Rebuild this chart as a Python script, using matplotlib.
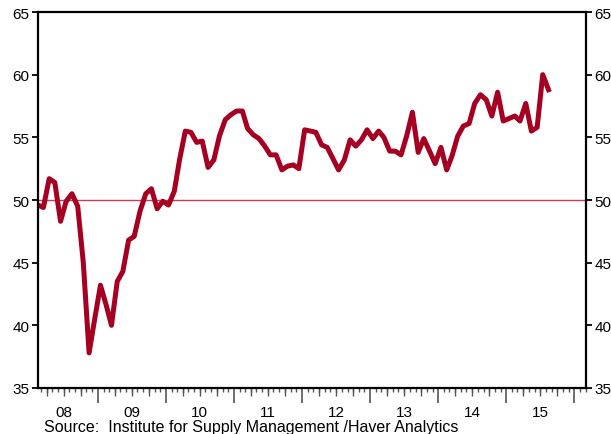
import matplotlib
matplotlib.use('Agg')
import matplotlib.pyplot as plt
import matplotlib.dates as mdates
import pandas as pd
import datetime as dt

plt.rcParams['font.family'] = ['Liberation Sans', 'DejaVu Sans']

# ISM non-manufacturing index, monthly, Feb 2008 - Aug 2015
vals_2008 = [49.6, 49.4, 51.7, 51.4, 48.3, 49.9, 50.5, 49.5, 45.0, 37.8, 40.5]
vals_2009 = [43.2, 41.6, 40.0, 43.5, 44.3, 46.8, 47.1, 49.1, 50.5, 50.9, 49.3, 49.9]
vals_2010 = [49.6, 50.7, 53.2, 55.5, 55.4, 54.6, 54.7, 52.6, 53.2, 55.1, 56.4, 56.8]
vals_2011 = [57.1, 57.1, 55.7, 55.2, 54.9, 54.3, 53.6, 53.6, 52.4, 52.7, 52.8, 52.5]
vals_2012 = [55.6, 55.5, 55.4, 54.4, 54.2, 53.3, 52.4, 53.2, 54.8, 54.3, 54.8, 55.6]
vals_2013 = [54.9, 55.5, 55.0, 53.9, 53.9, 53.6, 55.1, 57.0, 53.8, 54.9, 53.9, 52.9]
vals_2014 = [54.2, 52.4, 53.5, 55.1, 55.9, 56.1, 57.7, 58.4, 58.0, 56.7, 58.6, 56.3]
vals_2015 = [56.5, 56.7, 56.3, 57.7, 55.5, 55.8, 60.0, 58.8]

values = (vals_2008 + vals_2009 + vals_2010 + vals_2011 + vals_2012
          + vals_2013 + vals_2014 + vals_2015)
dates = pd.date_range('2008-02-01', periods=len(values), freq='MS') + pd.Timedelta(days=14)

year_labels = ['08', '09', '10', '11', '12', '13', '14', '15']
label_years = list(range(2008, 2016))
y_ticks = [35, 40, 45, 50, 55, 60, 65]

line_col = '#a50021'
ref_col = '#c83c5c'

fig = plt.figure(figsize=(6.11, 4.35), dpi=100)
ax = fig.add_axes([38/611, 1-389/435, (586-38)/611, (389-13)/435])

ax.axhline(50, color=ref_col, lw=1.0, zorder=1)
ax.plot(dates, values, color=line_col, lw=3.6, solid_joinstyle='round', zorder=2)

ax.set_ylim(35, 65)
ax.set_yticks(y_ticks)
ax.set_xlim(dt.date(2008, 2, 15), dt.date(2016, 3, 3))

for s in ax.spines.values():
    s.set_linewidth(1.6)

ax.tick_params(axis='y', which='major', direction='out', length=4, width=1.3,
               labelsize=11, right=True, labelright=True, pad=2)

# x ticks: long at January, short for every month
ax.xaxis.set_major_locator(mdates.YearLocator())
ax.xaxis.set_minor_locator(mdates.MonthLocator())
ax.xaxis.set_major_formatter(plt.NullFormatter())
ax.tick_params(axis='x', which='major', direction='out', length=11, width=1.2, color='#555555')
ax.tick_params(axis='x', which='minor', direction='out', length=3, width=1.0, color='#555555')

# medium ticks at quarters
qax = ax.secondary_xaxis('bottom')
qax.xaxis.set_major_locator(mdates.MonthLocator(bymonth=[4, 7, 10]))
qax.xaxis.set_major_formatter(plt.NullFormatter())
qax.tick_params(axis='x', direction='out', length=5.5, width=1.0, color='#555555')
qax.spines['bottom'].set_visible(False)

# year labels centred on each year
lax = ax.secondary_xaxis('bottom')
lax.set_xticks([mdates.date2num(dt.date(y, 7, 1)) for y in label_years])
lax.set_xticklabels(year_labels)
lax.tick_params(axis='x', length=0, pad=12, labelsize=11)
lax.spines['bottom'].set_visible(False)

fig.text(44/611, 1-428/435, 'Source:  Institute for Supply Management /Haver Analytics',
         fontsize=11.5, va='center', ha='left')

fig.savefig('out.png', dpi=100)
